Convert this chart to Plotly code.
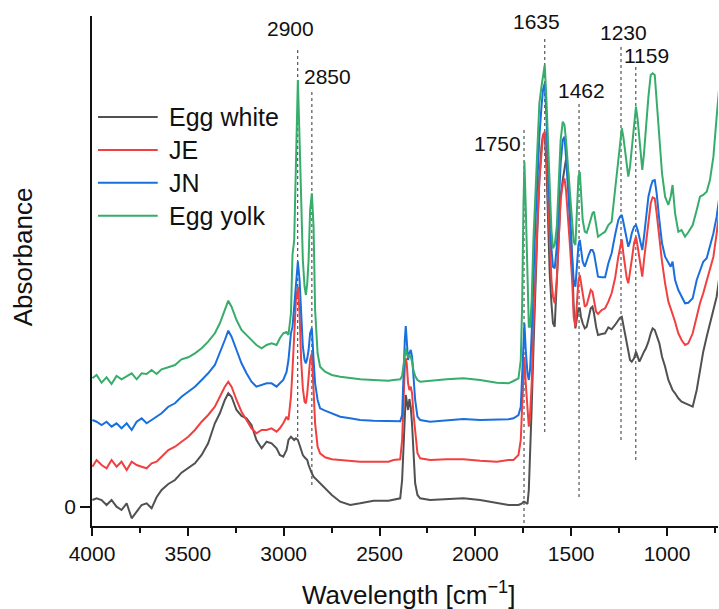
import plotly.graph_objects as go

# Wavenumber grid (cm^-1), shared by all spectra
wavenumber = [
    3998, 3976, 3950, 3924, 3898, 3872, 3846, 3819, 3793, 3767,
    3741, 3715, 3689, 3663, 3637, 3602, 3567, 3533, 3498, 3463,
    3428, 3394, 3359, 3333, 3307, 3289, 3272, 3246, 3220, 3194,
    3168, 3142, 3115, 3089, 3063, 3037, 3020, 3002, 2985,
    2975, 2962, 2954, 2945, 2936, 2926, 2917, 2909, 2900, 2891,
    2884, 2877, 2870, 2862, 2853, 2844, 2836, 2823, 2810, 2784,
    2749, 2705, 2653, 2601, 2531, 2453,
    2427, 2392, 2382, 2375, 2368, 2363, 2358, 2351, 2344, 2337,
    2330, 2323, 2314, 2302, 2288, 2236, 2149, 2062, 1975, 1888, 1827,
    1801, 1775, 1763, 1756, 1749, 1744, 1737, 1728, 1721, 1714,
    1706, 1697, 1687, 1676, 1666, 1655, 1647, 1638, 1629, 1621,
    1612, 1603, 1595, 1586, 1575, 1565, 1555, 1544, 1535, 1527,
    1516, 1506, 1495, 1487, 1478, 1469, 1462, 1455, 1449, 1440,
    1429, 1419, 1409, 1398, 1389, 1381, 1370, 1360,
    1341, 1323, 1306, 1289, 1271, 1254, 1245, 1236, 1228, 1219,
    1210, 1202, 1193, 1184, 1172, 1162, 1153, 1144, 1136, 1129,
    1120, 1110, 1097, 1085, 1075, 1064, 1054, 1040, 1026, 1010,
    993, 981, 971, 958, 941, 924, 906, 889, 866, 845,
    828, 811, 793, 776, 758, 741, 729,
]

# Offset absorbance (arbitrary units)
egg_white = [
    7, 8.7, 7, 2, 7, 0.3, -3, 3.7, -11.3, -4.7,
    2, 3.7, -1.3, 9.7, 17, 23, 27, 34.3, 38.7, 43.7,
    52, 63.7, 83.7, 93.7, 107, 113.7, 110.3, 97, 91, 88.7,
    82, 67, 58.7, 65.3, 63.7, 58.7, 52, 50.3, 57,
    67, 70.3, 68.7, 67, 68.7, 67, 62, 57, 52, 49.7,
    48.7, 47, 42, 37, 33.7, 30.3, 28.7, 26.3, 23.7, 18.7,
    12, 5.3, 2, 3.7, 6.3, 6.3,
    7, 8.7, 27, 60, 95, 112, 106, 97, 108, 100,
    82, 53.7, 23.7, 12, 8.7, 7, 7.7, 8.7, 7, 3.7, 2,
    2, 2, 3, 3.7, 5.3, 5.3, 4.3, 3, 17, 50.3,
    100.3, 157, 227, 280.3, 327, 360.3, 372, 373.7, 340.3, 283.7,
    233.7, 203.7, 183.7, 180.3, 227, 280.3, 310.3, 327, 338.7, 347.7,
    333.7, 293.7, 247, 200.3, 178.7, 190.3, 198.7, 198.7, 190.3, 183.7,
    178.7, 180.3, 190.3, 198.7, 200.3, 193.7, 180.3, 172,
    173, 173.7, 179.7, 177.7, 182, 187, 189.3, 190.3, 182, 173.7,
    162, 153.7, 147, 145.3, 148.7, 155.3, 150.3, 145.3, 148.7, 152,
    155.3, 158.7, 165.3, 173.7, 178.7, 177, 172, 163.7, 150.3, 140.3,
    127, 120.3, 117, 113.7, 108.7, 105.3, 103.7, 103, 100.3, 117,
    137, 155.3, 170.3, 183.7, 197, 210.3, 227,
]

je = [
    40.3, 47, 42, 38.7, 47, 40.3, 45.3, 37, 45.3, 42,
    40.3, 38.7, 43.7, 45.3, 50.3, 57, 60.3, 65.3, 70.3, 77,
    85.3, 92, 100.3, 110.3, 120.3, 125.3, 120.3, 107, 95.3, 87,
    78.7, 73.7, 77, 77, 78.7, 75.3, 78.7, 83.7, 90.3,
    87, 110.3, 137, 173.7, 207, 220.3, 193.7, 147, 118.7, 105.3,
    103.7, 113.7, 130.3, 147, 153.7, 113.7, 83.7, 60.3, 53.7, 49.7,
    47.7, 47, 46, 45.3, 45.3, 45.3,
    47, 47.7, 67, 110.3, 140.3, 148.7, 143.7, 123.7, 117, 120.3,
    113.7, 93.7, 73.7, 53.7, 48.7, 47, 47.7, 47.7, 46.3, 45.3, 47,
    47, 52, 67, 100.3, 137, 150.3, 123.7, 93.7, 80.3, 93.7,
    123.7, 180.3, 240.3, 283.7, 327, 357, 372, 375.3, 353.7, 310.3,
    267, 227, 210.3, 203.7, 227, 273.7, 307, 323.7, 328.7, 317,
    290.3, 260.3, 227, 190.3, 180.3, 210.3, 227, 232, 223.7, 213.7,
    200.3, 202, 210.3, 217, 215.3, 207, 195.3, 193,
    197, 198.7, 205.3, 213.7, 228.7, 250.3, 260.3, 267.7, 253.7, 240.3,
    228.7, 223.7, 233.7, 247, 263.7, 270.3, 260.3, 247, 235.3, 230.3,
    247, 263.7, 287, 303.7, 309.7, 308.7, 293.7, 267, 245.3, 223.7,
    205.3, 198.7, 193.7, 185.3, 173.7, 167, 162, 163.7, 173.7, 190.3,
    203.7, 213.7, 225.3, 237, 250.3, 273.7, 293.7,
]

jn = [
    87, 85.3, 82, 85.3, 80.3, 83.7, 78.7, 83.7, 77, 85.3,
    88.7, 83.7, 87, 90.3, 93.7, 100.3, 103.7, 110.3, 115.3, 120.3,
    127, 133.7, 142, 153.7, 167, 176.3, 170.3, 157, 143.7, 133.7,
    125.3, 120.3, 122, 123.7, 123.7, 120.3, 123.7, 127, 135,
    147, 173.7, 180.3, 200.3, 227, 245.3, 227, 187, 160.3, 147,
    143.7, 148.7, 157, 173.7, 178.7, 147, 123.7, 107, 98.7, 96.3,
    93.7, 90.3, 88.7, 87, 86.3, 86,
    85.3, 85.7, 92, 137, 167, 181, 170.3, 147, 153.7, 157,
    150.3, 130.3, 107, 90.3, 87, 85.3, 87, 88, 87, 87, 87.7,
    88.7, 92, 100.3, 133.7, 167, 183.7, 157, 133.7, 127, 138.7,
    173.7, 233.7, 283.7, 327, 370.3, 400.3, 417, 423.7, 390.3, 340.3,
    293.7, 258.7, 240.3, 238.7, 260.3, 300.3, 343.7, 367, 370.3, 350.3,
    317, 287, 253.7, 227, 220.3, 243.7, 262, 267, 257, 245.3,
    240.3, 247, 252, 257, 257, 253.7, 240.3, 230.3,
    229.7, 229.7, 243.7, 253.7, 272, 287, 290.3, 292, 285.3, 277,
    267, 260.3, 265.3, 273.7, 280.3, 282, 277, 270.3, 262, 257,
    270.3, 290.3, 310.3, 320.3, 326.3, 327, 313.7, 287, 263.7, 250.3,
    243.7, 240.3, 245.3, 227, 217, 210.3, 203.7, 204.3, 208.7, 227,
    237, 245.3, 248.7, 260.3, 273.7, 290.3, 307,
]

egg_yolk = [
    128.7, 132, 124.3, 129.7, 123, 131, 127.7, 131, 133.7, 127.7,
    133.7, 133, 137, 133, 137.7, 139.7, 142, 147.7, 149.7, 153.7,
    158.7, 165.3, 173.7, 183.7, 197, 206.3, 200.3, 187, 177, 172,
    167, 162, 158.7, 162, 163.7, 162, 168.7, 173.7, 175,
    172, 193.7, 252, 267, 347, 427, 367, 307, 247, 220.3,
    212, 223.7, 247, 297, 313.7, 280.3, 197, 153.7, 140.3, 135.3,
    132, 130.3, 128.7, 127.7, 127, 126.3,
    127, 127.7, 131, 140.3, 152, 158.7, 153.7, 149.7, 152, 150.3,
    145.3, 137, 131, 127, 125.3, 126.3, 127.7, 128.7, 127, 124.3, 123.7,
    126, 128.7, 147, 200.3, 300.3, 345.3, 300.3, 217, 180.3, 180.3,
    207, 267, 317, 360.3, 403.7, 420.3, 430.3, 442, 407, 360.3,
    310.3, 277, 258.7, 262, 280.3, 327, 367, 385.3, 382, 367,
    340.3, 313.7, 280.3, 265.3, 262, 300.3, 330.3, 335.3, 317, 287,
    275.3, 274.3, 280.3, 288.7, 293.7, 295.3, 283.7, 270.3,
    273, 275.3, 282, 285.3, 317, 350.3, 367, 378.7, 370.3, 357,
    340.3, 330.3, 340.3, 357, 383.7, 400.3, 387, 367, 347, 337,
    353.7, 380.3, 410.3, 432, 433.7, 432, 407, 367, 333.7, 310.3,
    302, 310.3, 322, 293.7, 275.3, 277, 270.3, 274.7, 282, 297,
    310.3, 312, 315.3, 327, 350.3, 390.3, 417,
]

series_names = ["Egg white", "JE", "JN", "Egg yolk"]
series_values = [egg_white, je, jn, egg_yolk]
series_colors = ["#515151", "#F14040", "#1A6FDF", "#37AD6B"]

# Marked bands: label, guide-line position (cm^-1), guide bottom / top (a.u.)
band_labels = ["2900", "2850", "1750", "1635", "1462", "1230", "1159"]
band_positions = [2927, 2853, 1746, 1638, 1459, 1240, 1163]
band_bottom = [70, 22, -16, 75, 10, 67, 47]
band_top = [460, 415, 377, 469, 404, 460, 440]

x_ticks = [4000, 3500, 3000, 2500, 2000, 1500, 1000]
x_minor = [3750, 3250, 2750, 2250, 1750, 1250, 750]

FONT = "Liberation Sans, Arial, sans-serif"

fig = go.Figure()
for name, vals, col in zip(series_names, series_values, series_colors):
    fig.add_trace(go.Scatter(x=wavenumber, y=vals, mode="lines", name=name,
                             line=dict(color=col, width=2), showlegend=False))

# label placement (cm^-1, a.u.)
label_x = [2966, 2773, 1886, 1683, 1448, 1229, 1109]
label_y = [479, 431, 364, 486, 417, 475, 452]

for lab, xp, y0, y1, lx, ly in zip(band_labels, band_positions, band_bottom,
                                    band_top, label_x, label_y):
    fig.add_shape(type="line", xref="x", yref="y", x0=xp, x1=xp, y0=y0, y1=y1,
                  line=dict(color="#555555", width=1.2, dash="dot"), layer="below")
    fig.add_annotation(x=lx, y=ly, xref="x", yref="y", text=lab, showarrow=False,
                       font=dict(family=FONT, size=21, color="#111111"),
                       xanchor="center", yanchor="middle")

# Legend (long sample lines like the original), placed in paper coordinates
leg_x0, leg_x1, leg_text_x = 0.0096, 0.105, 0.1198
leg_top, leg_step = 0.802, 0.0645
for i, (name, col) in enumerate(zip(series_names, series_colors)):
    yy = leg_top - i * leg_step
    fig.add_shape(type="line", xref="paper", yref="paper", x0=leg_x0, x1=leg_x1,
                  y0=yy, y1=yy, line=dict(color=col, width=2))
    fig.add_annotation(x=leg_text_x, y=yy, xref="paper", yref="paper", text=name,
                       showarrow=False, xanchor="left", yanchor="middle",
                       font=dict(family=FONT, size=25, color="#111111"))

fig.add_annotation(x=-0.110, y=0.527, xref="paper", yref="paper", text="Absorbance",
                   textangle=-90, showarrow=False, xanchor="center", yanchor="middle",
                   font=dict(family=FONT, size=26, color="#111111"))
fig.add_annotation(x=0.505, y=-0.133, xref="paper", yref="paper",
                   text="Wavelength [cm<sup>−1</sup>]", showarrow=False,
                   xanchor="center", yanchor="middle",
                   font=dict(family=FONT, size=26, color="#111111"))

fig.update_layout(
    width=719, height=609,
    margin=dict(l=92, r=1, t=16, b=83),
    paper_bgcolor="white", plot_bgcolor="white",
    font=dict(family=FONT, size=21, color="#111111"),
    showlegend=False,
)
fig.update_xaxes(range=[4000, 734], showgrid=False, zeroline=False,
                 showline=True, linecolor="#111111", linewidth=1.5,
                 ticks="outside", ticklen=8, tickwidth=1.5, tickcolor="#111111",
                 tickvals=x_ticks, ticktext=[str(v) for v in x_ticks],
                 tickfont=dict(family=FONT, size=21, color="#111111"),
                 minor=dict(tickvals=x_minor, ticks="outside", ticklen=5,
                            tickwidth=1.5, tickcolor="#111111"))
fig.update_yaxes(range=[-19, 491], showgrid=False, zeroline=False,
                 showline=True, linecolor="#111111", linewidth=1.5,
                 ticks="outside", ticklen=10, tickwidth=1.5, tickcolor="#111111",
                 tickvals=[0], ticktext=["0"],
                 tickfont=dict(family=FONT, size=21, color="#111111"))

fig.write_html("out.html")
